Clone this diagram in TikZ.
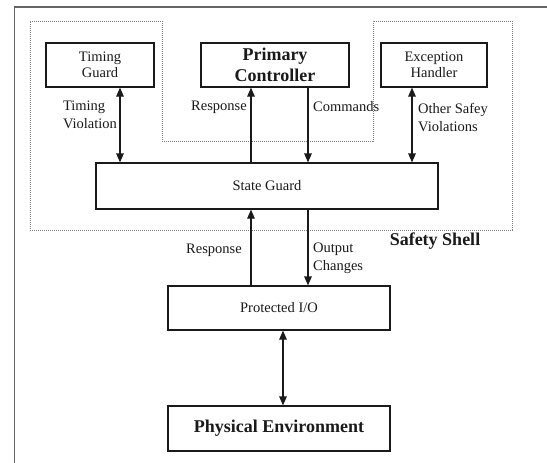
\documentclass[tikz,border=0pt]{standalone}
\usepackage{fontspec}
\setmainfont{Liberation Serif}
\usetikzlibrary{arrows.meta}
\definecolor{ink}{HTML}{1A1A1A}
\tikzset{
  box/.style={draw=ink, line width=1.2pt, rectangle, inner sep=0pt, align=center, text=ink,
              font=\fontsize{14.5}{16}\selectfont},
  bigbox/.style={box, font=\bfseries\fontsize{18}{21}\selectfont},
  lbl/.style={text=ink, align=left, inner sep=0pt, font=\fontsize{14.5}{18}\selectfont},
  conn/.style={draw=ink, line width=1.2pt},
  tip/.style={-{Triangle[length=9pt,width=7.5pt]}},
  dtip/.style={{Triangle[length=9pt,width=7.5pt]}-{Triangle[length=9pt,width=7.5pt]}},
  frame/.style={draw=black!60, line width=1.6pt},
  shell/.style={draw=black!50, line width=1pt, dash pattern=on 1pt off 1pt}
}
\begin{document}
\begin{tikzpicture}[x=1pt,y=-1pt]
\useasboundingbox (0,0) rectangle (547,463);
\fill[white] (0,0) rectangle (547,463);
% outer frame
\draw[frame] (14.5,463) -- (14.5,7) -- (547,7);
% safety shell outline
\draw[shell] (30,21) -- (162,21) -- (162,141) -- (373,141) -- (373,21) -- (512,21) -- (512,230) -- (30,230) -- cycle;

\node[box, minimum width=108pt, minimum height=44pt] (tg) at (100,65) {Timing\\Guard};
\node[bigbox, minimum width=148pt, minimum height=44pt] (pc) at (275,65) {Primary\\Controller};
\node[box, minimum width=106pt, minimum height=44pt] (eh) at (434,65) {Exception\\Handler};
\node[box, minimum width=342pt, minimum height=46pt] (sg) at (267,186) {State Guard};
\node[box, minimum width=222pt, minimum height=44pt] (pio) at (279,308) {Protected I/O};
\node[bigbox, minimum width=222pt, minimum height=45pt] (pe) at (279,428.5) {Physical Environment};

% connectors
\draw[conn, dtip] ([xshift=20pt]tg.south) -- ([xshift=20pt]tg.south |- sg.north);
\draw[conn, tip] ([xshift=-24pt]pc.south |- sg.north) -- ([xshift=-24pt]pc.south);
\draw[conn, tip] ([xshift=33pt]pc.south) -- ([xshift=33pt]pc.south |- sg.north);
\draw[conn, dtip] ([xshift=-22pt]eh.south) -- ([xshift=-22pt]eh.south |- sg.north);
\draw[conn, tip] ([xshift=-28pt]pio.north) -- ([xshift=-28pt]pio.north |- sg.south);
\draw[conn, tip] ([xshift=29pt]pio.north |- sg.south) -- ([xshift=29pt]pio.north);
\draw[conn, dtip] ([xshift=4pt]pio.south) -- ([xshift=4pt]pe.north);

% labels
\node[lbl, align=left] (ltv) at (90,115) {Timing\\Violation};
\node[lbl, anchor=east] (lr1) at (247,107) {Response};
\node[lbl, anchor=west] (lc) at (313,107) {Commands};
\node[lbl, anchor=west, align=left] (lo) at (418,118) {Other Safey\\Violations};
\node[lbl, anchor=east] (lr2) at (242,250) {Response};
\node[lbl, anchor=west, align=left] (loc) at (313,258) {Output\\Changes};
\node[text=ink, inner sep=0pt, font=\bfseries\fontsize{18}{20}\selectfont] (ss) at (435,241) {Safety Shell};
\end{tikzpicture}
\end{document}
